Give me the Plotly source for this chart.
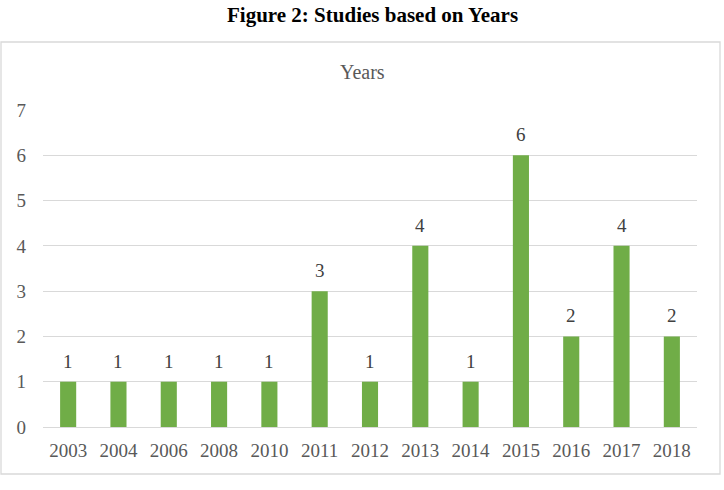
import plotly.graph_objects as go

years = ["2003", "2004", "2006", "2008", "2010", "2011", "2012", "2013", "2014", "2015", "2016", "2017", "2018"]
studies = [1, 1, 1, 1, 1, 3, 1, 4, 1, 6, 2, 4, 2]
y_ticks = [0, 1, 2, 3, 4, 5, 6, 7]

W, H = 724, 490
L, R, T, B = 43, 27, 110, 63
pw, ph = W - L - R, H - T - B

def px_to_paper_x(px):
    return (px - L) / pw

def px_to_paper_y(py):
    return (H - B - py) / ph

fig = go.Figure()
fig.add_trace(go.Bar(
    x=years, y=studies,
    marker=dict(color="#70AD47", line=dict(width=0)),
    width=0.32,
    hoverinfo="skip",
    cliponaxis=False,
))

annotations = []
for i, v in enumerate(studies):
    annotations.append(dict(
        x=i, y=v, xref="x", yref="y", text=str(v), showarrow=False,
        yanchor="bottom", yshift=8,
        font=dict(family="Liberation Serif", size=19, color="#404040"),
    ))
annotations.append(dict(
    x=px_to_paper_x(372), y=px_to_paper_y(1), xref="paper", yref="paper",
    text="<b>Figure 2: Studies based on Years</b>", showarrow=False,
    xanchor="center", yanchor="top",
    font=dict(family="Liberation Serif", size=21, color="#000000"),
))
annotations.append(dict(
    x=px_to_paper_x(362), y=px_to_paper_y(72), xref="paper", yref="paper",
    text="Years", showarrow=False, xanchor="center", yanchor="middle",
    font=dict(family="Liberation Serif", size=20, color="#595959"),
))

fig.update_layout(
    width=W, height=H,
    margin=dict(l=L, r=R, t=T, b=B, pad=0),
    paper_bgcolor="white", plot_bgcolor="white",
    showlegend=False,
    annotations=annotations,
    shapes=[dict(
        type="rect", xref="paper", yref="paper",
        x0=px_to_paper_x(1), x1=px_to_paper_x(720),
        y0=px_to_paper_y(474), y1=px_to_paper_y(42),
        line=dict(color="#D9D9D9", width=1.3), fillcolor="rgba(0,0,0,0)",
        layer="below",
    )],
    xaxis=dict(
        type="category", showgrid=False, zeroline=False,
        range=[-0.5, len(years) - 0.5], autorange=False,
        showline=False, ticks="",
        tickfont=dict(family="Liberation Serif", size=19, color="#595959"),
        ticklabelstandoff=10,
    ),
    yaxis=dict(
        range=[0, 7], autorange=False, tickvals=y_ticks, showgrid=True, gridcolor="#D9D9D9",
        gridwidth=1, zeroline=True, zerolinecolor="#D9D9D9", zerolinewidth=1,
        showline=False, ticks="",
        tickfont=dict(family="Liberation Serif", size=19, color="#595959"),
        ticklabelstandoff=16,
    ),
)

fig.write_html("out.html")
